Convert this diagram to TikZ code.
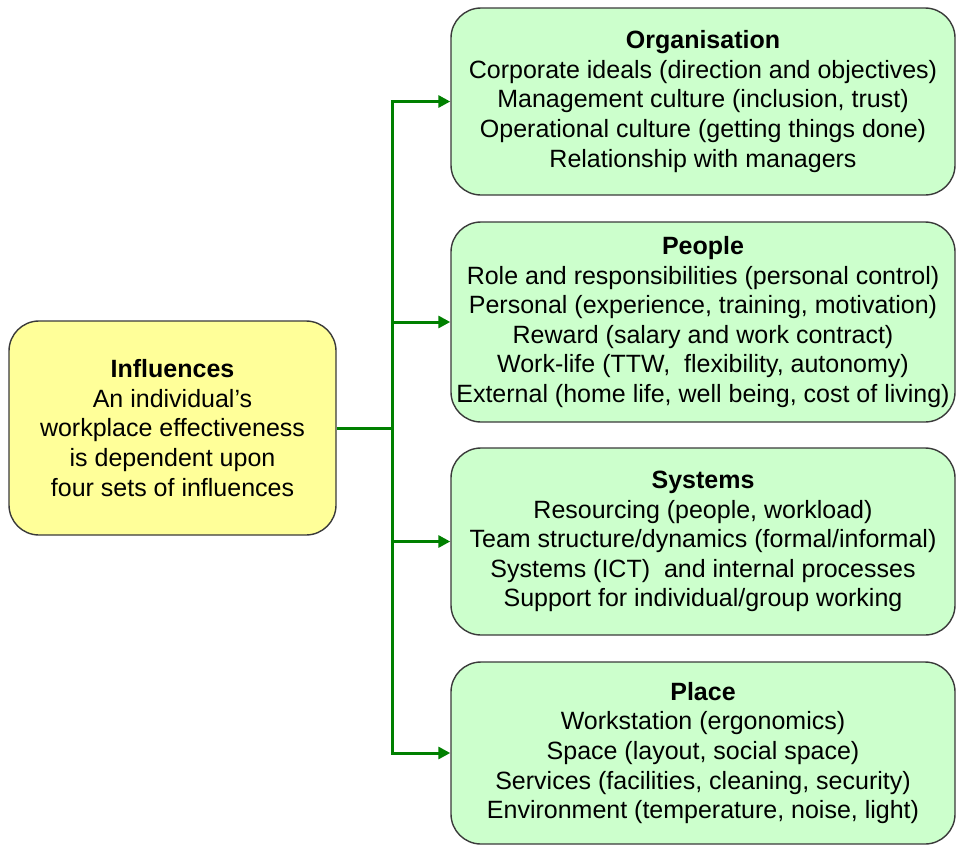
\documentclass[tikz,border=0pt]{standalone}
\usepackage{fontspec}
\setmainfont{Liberation Sans}
\usetikzlibrary{arrows.meta}
\definecolor{boxyellow}{HTML}{FFFF99}
\definecolor{boxgreen}{HTML}{CCFFCC}
\definecolor{linegreen}{HTML}{008000}
\definecolor{bordergray}{HTML}{3A3A3A}
\begin{document}
\begin{tikzpicture}[x=1pt,y=-1pt,
  box/.style={draw=bordergray, line width=1.4pt, rounded corners=30pt,
    align=center, inner sep=0pt, font=\fontsize{25}{29.6}\selectfont},
  leftbox/.style={box, fill=boxyellow, minimum width=327pt, minimum height=214pt},
  rightbox/.style={box, fill=boxgreen, minimum width=504pt},
  conn/.style={draw=linegreen, line width=3pt, line join=miter},
  arr/.style={conn, -{Triangle[length=12pt,width=12pt]}}]
\useasboundingbox (0,0) rectangle (957,846);

\node[leftbox] (infl) at (172.5,428) {\textbf{Influences}\\An individual’s\\workplace effectiveness\\is dependent upon\\four sets of influences};

\node[rightbox, minimum height=187pt] (org) at (703,101.5) {\textbf{Organisation}\\Corporate ideals (direction and objectives)\\Management culture (inclusion, trust)\\Operational culture (getting things done)\\Relationship with managers};

\node[rightbox, minimum height=200pt] (ppl) at (703,322) {\textbf{People}\\Role and responsibilities (personal control)\\Personal (experience, training, motivation)\\Reward (salary and work contract)\\Work-life (TTW,~ flexibility, autonomy)\\External (home life, well being, cost of living)};

\node[rightbox, minimum height=187pt] (sys) at (703,541.5) {\textbf{Systems}\\Resourcing (people, workload)\\Team structure/dynamics (formal/informal)\\Systems (ICT)~ and internal processes\\Support for individual/group working};

\node[rightbox, minimum height=182pt] (plc) at (703,753) {\textbf{Place}\\Workstation (ergonomics)\\Space (layout, social space)\\Services (facilities, cleaning, security)\\Environment (temperature, noise, light)};

\coordinate (j) at (392.5,428);
\draw[conn] (infl.east) -- (j);
\draw[arr] (j) |- (org.west);
\draw[arr] (j) |- (ppl.west);
\draw[arr] (j) |- (sys.west);
\draw[arr] (j) |- (plc.west);
\end{tikzpicture}
\end{document}
